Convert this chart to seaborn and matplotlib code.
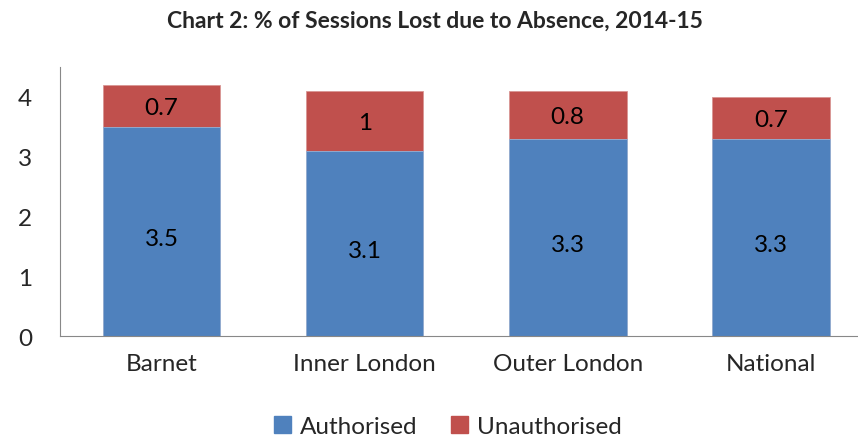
import pandas as pd
import numpy as np
import matplotlib.pyplot as plt
import seaborn as sns
from matplotlib.patches import Patch

areas = ['Barnet', 'Inner London', 'Outer London', 'National']
authorised = [3.5, 3.1, 3.3, 3.3]
unauthorised = [0.7, 1, 0.8, 0.7]
unauth_labels = ['0.7', '1', '0.8', '0.7']

sns.set_style('white')
plt.rcParams['font.family'] = ['Lato', 'DejaVu Sans']

df = pd.DataFrame({'Area': areas, 'Authorised': authorised, 'Unauthorised': unauthorised})
df['Total'] = df['Authorised'] + df['Unauthorised']

fig = plt.figure(figsize=(8.58, 4.39), dpi=100)
ax = fig.add_axes([0.07, 0.232, 0.93, 0.613])

blue = '#4F81BD'
red = '#C0504D'
fs = 17.5

# stacked: total (red) behind, authorised (blue) in front
sns.barplot(data=df, x='Area', y='Total', color=red, width=0.58, ax=ax,
            saturation=1, edgecolor='#D99694', linewidth=0.6)
sns.barplot(data=df, x='Area', y='Authorised', color=blue, width=0.58, ax=ax,
            saturation=1, edgecolor='#95B3D7', linewidth=0.6)

red_bars = ax.containers[0]
blue_bars = ax.containers[1]
for bar, a in zip(blue_bars, authorised):
    ax.text(bar.get_x() + bar.get_width() / 2, a / 2 - 0.12, str(a),
            ha='center', va='center', fontsize=fs, color='black')
for bar, a, u, lab in zip(red_bars, authorised, unauthorised, unauth_labels):
    ax.text(bar.get_x() + bar.get_width() / 2, a + u / 2 - 0.03, lab,
            ha='center', va='center', fontsize=fs, color='black')

ax.set_ylim(0, 4.5)
ax.set_xlim(-0.5, 3.43)
ax.set_yticks([0, 1, 2, 3, 4])
ax.set_xlabel('')
ax.set_ylabel('')
ax.tick_params(axis='both', labelsize=fs, length=0, pad=12)
ax.tick_params(axis='y', pad=20)
for s in ['top', 'right']:
    ax.spines[s].set_visible(False)
ax.spines['left'].set_color('#888888')
ax.spines['bottom'].set_color('#888888')

fig.suptitle('Chart 2: % of Sessions Lost due to Absence, 2014-15',
             fontsize=16.5, fontweight='bold', x=0.507, y=0.975)

handles = [Patch(color=blue, label='Authorised'), Patch(color=red, label='Unauthorised')]
fig.legend(handles=handles, loc='center', bbox_to_anchor=(0.522, 0.027), ncol=2,
           frameon=False, fontsize=fs, handlelength=0.7, handleheight=0.7,
           handletextpad=0.35, columnspacing=1.4)

fig.savefig('out.png', dpi=100)
